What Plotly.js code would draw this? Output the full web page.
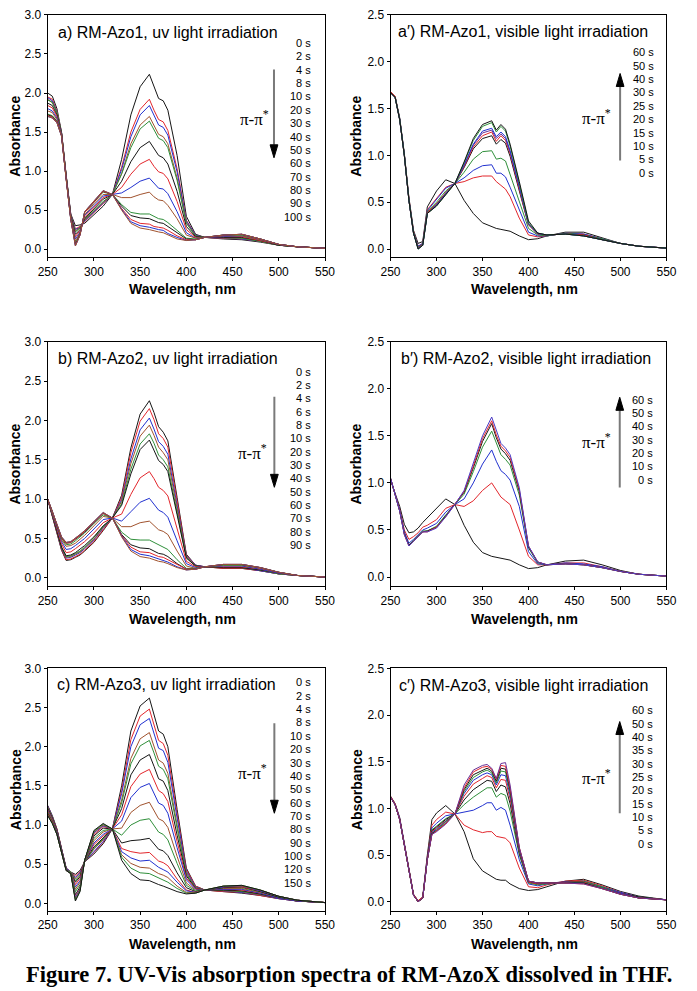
<!DOCTYPE html>
<html><head><meta charset="utf-8">
<script src="https://cdn.plot.ly/plotly-3.0.1.min.js"></script>
<style>html,body{margin:0;padding:0;background:#fff}#chart{width:697px;height:991px}</style>
</head><body><div id="chart"></div>
<script>
// wavelength grids (nm)
const wl = [250,255,260,265,270,275,280,285,290,300,310,320,330,340,350,360,365,370,375,380,390,400,410,420,440,460,480,500,520,550];
const wlC3vis = [250,255,260,265,270,275,280,285,290,295,300,310,320,330,340,350,355,360,365,370,375,380,390,400,410,420,440,460,480,500,520,550];

// a) RM-Azo1, UV irradiation (0..100 s)
const azo1_uv_labels = ['0 s','2 s','4 s','8 s','10 s','20 s','30 s','40 s','50 s','60 s','70 s','80 s','90 s','100 s'];
const azo1_uv = [
 [2.00,1.96,1.80,1.50,0.95,0.45,0.30,0.31,0.33,0.44,0.55,0.70,1.15,1.72,2.08,2.24,2.08,1.93,1.90,1.78,1.20,0.42,0.19,0.15,0.13,0.12,0.09,0.05,0.03,0.01],
 [1.95,1.92,1.77,1.49,0.94,0.44,0.26,0.29,0.35,0.47,0.58,0.70,1.05,1.50,1.79,1.92,1.78,1.66,1.63,1.52,1.03,0.37,0.18,0.15,0.14,0.13,0.10,0.05,0.03,0.01],
 [1.94,1.90,1.76,1.49,0.94,0.44,0.25,0.28,0.36,0.48,0.59,0.70,1.02,1.44,1.72,1.84,1.71,1.59,1.56,1.46,0.99,0.36,0.18,0.15,0.14,0.13,0.10,0.05,0.03,0.01],
 [1.92,1.88,1.75,1.49,0.94,0.43,0.23,0.28,0.37,0.49,0.60,0.70,0.97,1.35,1.59,1.70,1.58,1.47,1.44,1.35,0.91,0.34,0.17,0.15,0.14,0.14,0.10,0.05,0.03,0.01],
 [1.91,1.88,1.75,1.49,0.94,0.43,0.22,0.27,0.38,0.49,0.61,0.70,0.96,1.30,1.54,1.64,1.53,1.42,1.39,1.30,0.88,0.33,0.17,0.15,0.15,0.14,0.10,0.05,0.03,0.01],
 [1.87,1.84,1.72,1.48,0.93,0.42,0.19,0.25,0.39,0.52,0.64,0.70,0.87,1.12,1.30,1.38,1.29,1.20,1.17,1.09,0.74,0.29,0.16,0.15,0.15,0.15,0.11,0.05,0.03,0.01],
 [1.84,1.81,1.70,1.47,0.92,0.41,0.16,0.24,0.41,0.54,0.66,0.70,0.79,0.96,1.09,1.15,1.06,0.99,0.97,0.90,0.61,0.25,0.15,0.15,0.16,0.16,0.11,0.06,0.03,0.01],
 [1.80,1.77,1.68,1.47,0.92,0.40,0.13,0.22,0.43,0.56,0.68,0.70,0.72,0.79,0.87,0.91,0.84,0.78,0.77,0.71,0.48,0.21,0.14,0.15,0.16,0.17,0.12,0.06,0.03,0.01],
 [1.77,1.75,1.66,1.46,0.91,0.40,0.10,0.21,0.44,0.58,0.70,0.70,0.66,0.66,0.70,0.73,0.67,0.63,0.62,0.56,0.39,0.18,0.14,0.15,0.17,0.17,0.12,0.06,0.03,0.01],
 [1.73,1.71,1.64,1.46,0.91,0.39,0.07,0.19,0.47,0.60,0.73,0.70,0.57,0.47,0.45,0.45,0.42,0.39,0.38,0.34,0.24,0.14,0.13,0.15,0.18,0.18,0.13,0.06,0.03,0.01],
 [1.72,1.70,1.63,1.45,0.90,0.38,0.06,0.19,0.47,0.61,0.74,0.70,0.55,0.43,0.40,0.39,0.36,0.34,0.33,0.29,0.20,0.13,0.12,0.15,0.18,0.19,0.13,0.06,0.03,0.01],
 [1.71,1.69,1.63,1.45,0.90,0.38,0.05,0.18,0.47,0.61,0.74,0.70,0.52,0.38,0.33,0.32,0.29,0.28,0.27,0.24,0.17,0.12,0.12,0.15,0.18,0.19,0.13,0.06,0.03,0.01],
 [1.70,1.68,1.62,1.45,0.90,0.38,0.04,0.18,0.48,0.62,0.75,0.70,0.51,0.35,0.30,0.28,0.26,0.25,0.24,0.20,0.15,0.11,0.12,0.15,0.18,0.19,0.13,0.06,0.03,0.01],
 [1.70,1.68,1.62,1.45,0.90,0.38,0.04,0.18,0.48,0.62,0.75,0.70,0.50,0.33,0.27,0.25,0.23,0.22,0.21,0.18,0.13,0.11,0.12,0.15,0.18,0.19,0.13,0.06,0.03,0.01]
];

// a') RM-Azo1, visible irradiation (0..60 s)
const azo1_vis_labels = ['60 s','50 s','40 s','30 s','25 s','20 s','15 s','10 s','5 s','0 s'];
const azo1_vis = [
 [1.68,1.63,1.40,1.02,0.55,0.20,0.06,0.08,0.45,0.62,0.74,0.70,0.52,0.38,0.28,0.24,0.22,0.21,0.20,0.19,0.14,0.10,0.11,0.14,0.18,0.18,0.12,0.06,0.03,0.01],
 [1.68,1.63,1.39,1.01,0.54,0.19,0.03,0.06,0.42,0.54,0.66,0.70,0.72,0.76,0.78,0.78,0.72,0.68,0.64,0.56,0.33,0.15,0.13,0.14,0.17,0.16,0.11,0.06,0.03,0.01],
 [1.67,1.62,1.39,1.01,0.53,0.18,0.03,0.06,0.41,0.53,0.65,0.70,0.76,0.84,0.89,0.90,0.81,0.81,0.77,0.66,0.42,0.18,0.14,0.14,0.17,0.16,0.11,0.06,0.03,0.01],
 [1.67,1.62,1.39,1.01,0.53,0.18,0.02,0.05,0.40,0.50,0.62,0.70,0.82,0.96,1.04,1.05,0.96,0.97,0.94,0.80,0.51,0.22,0.15,0.14,0.17,0.15,0.11,0.06,0.03,0.01],
 [1.67,1.62,1.38,1.00,0.52,0.17,0.01,0.05,0.39,0.48,0.60,0.70,0.87,1.07,1.18,1.21,1.12,1.17,1.13,0.99,0.62,0.26,0.16,0.15,0.16,0.15,0.10,0.06,0.03,0.01],
 [1.67,1.62,1.38,1.00,0.52,0.17,0.01,0.05,0.39,0.48,0.60,0.70,0.88,1.09,1.21,1.25,1.15,1.21,1.16,1.02,0.64,0.26,0.16,0.15,0.16,0.15,0.10,0.06,0.03,0.01],
 [1.67,1.62,1.38,1.00,0.52,0.17,0.01,0.04,0.38,0.47,0.59,0.70,0.89,1.11,1.24,1.27,1.18,1.23,1.18,1.04,0.66,0.27,0.16,0.15,0.16,0.14,0.10,0.06,0.03,0.01],
 [1.67,1.62,1.38,1.00,0.52,0.17,0.00,0.04,0.38,0.47,0.59,0.70,0.90,1.12,1.26,1.29,1.20,1.25,1.20,1.05,0.67,0.27,0.17,0.15,0.16,0.14,0.10,0.06,0.03,0.01],
 [1.67,1.62,1.38,1.00,0.52,0.17,0.00,0.04,0.38,0.46,0.58,0.70,0.92,1.16,1.31,1.35,1.25,1.31,1.26,1.10,0.70,0.28,0.17,0.15,0.16,0.14,0.10,0.06,0.03,0.01],
 [1.67,1.62,1.38,1.00,0.52,0.17,0.00,0.04,0.38,0.46,0.58,0.70,0.93,1.18,1.33,1.37,1.27,1.33,1.28,1.12,0.72,0.30,0.17,0.15,0.16,0.14,0.10,0.06,0.03,0.01]
];

// b) RM-Azo2, UV irradiation (0..90 s)
const azo2_uv_labels = ['0 s','2 s','4 s','6 s','8 s','10 s','20 s','30 s','40 s','50 s','60 s','70 s','80 s','90 s'];
const azo2_uv = [
 [1.00,0.78,0.55,0.35,0.22,0.23,0.26,0.29,0.34,0.45,0.60,0.76,1.05,1.65,2.08,2.25,2.10,1.92,1.85,1.74,1.02,0.30,0.16,0.14,0.12,0.12,0.09,0.05,0.03,0.01],
 [1.00,0.78,0.56,0.36,0.23,0.24,0.27,0.30,0.35,0.46,0.61,0.76,1.02,1.59,1.99,2.15,2.01,1.83,1.77,1.66,0.98,0.29,0.16,0.14,0.12,0.12,0.09,0.05,0.03,0.01],
 [1.00,0.79,0.56,0.37,0.25,0.26,0.29,0.32,0.37,0.48,0.63,0.76,0.99,1.51,1.88,2.03,1.89,1.73,1.67,1.57,0.92,0.28,0.16,0.14,0.13,0.13,0.09,0.05,0.03,0.01],
 [1.00,0.79,0.57,0.38,0.26,0.27,0.30,0.33,0.38,0.49,0.64,0.76,0.97,1.45,1.80,1.94,1.81,1.66,1.59,1.50,0.88,0.27,0.15,0.14,0.13,0.13,0.10,0.05,0.03,0.01],
 [1.00,0.80,0.58,0.39,0.27,0.28,0.31,0.34,0.39,0.51,0.65,0.76,0.94,1.38,1.70,1.83,1.71,1.56,1.50,1.41,0.83,0.26,0.15,0.14,0.13,0.13,0.10,0.05,0.03,0.01],
 [1.00,0.80,0.58,0.39,0.28,0.29,0.32,0.36,0.41,0.52,0.66,0.76,0.92,1.32,1.63,1.75,1.63,1.49,1.44,1.35,0.80,0.25,0.15,0.14,0.13,0.13,0.10,0.06,0.03,0.01],
 [1.00,0.81,0.61,0.43,0.32,0.33,0.37,0.41,0.46,0.57,0.70,0.76,0.81,1.06,1.27,1.35,1.26,1.15,1.11,1.04,0.62,0.21,0.14,0.14,0.14,0.14,0.11,0.06,0.03,0.01],
 [1.00,0.82,0.63,0.46,0.36,0.37,0.41,0.45,0.50,0.62,0.74,0.76,0.72,0.84,0.96,1.01,0.94,0.86,0.83,0.77,0.47,0.18,0.13,0.14,0.15,0.15,0.11,0.06,0.03,0.01],
 [1.00,0.83,0.65,0.48,0.40,0.41,0.44,0.49,0.54,0.66,0.78,0.76,0.65,0.65,0.70,0.72,0.67,0.61,0.59,0.55,0.34,0.15,0.12,0.14,0.16,0.16,0.12,0.07,0.03,0.01],
 [1.00,0.84,0.67,0.50,0.42,0.43,0.47,0.52,0.57,0.69,0.80,0.76,0.58,0.49,0.48,0.48,0.45,0.41,0.39,0.36,0.23,0.12,0.12,0.14,0.16,0.16,0.13,0.07,0.03,0.01],
 [1.00,0.85,0.67,0.51,0.44,0.45,0.49,0.53,0.58,0.70,0.82,0.76,0.55,0.42,0.38,0.37,0.34,0.31,0.30,0.27,0.18,0.11,0.11,0.14,0.17,0.17,0.13,0.07,0.03,0.01],
 [1.00,0.85,0.68,0.51,0.44,0.45,0.49,0.54,0.59,0.71,0.82,0.76,0.54,0.39,0.33,0.32,0.30,0.27,0.26,0.23,0.16,0.11,0.11,0.14,0.17,0.17,0.13,0.07,0.03,0.01],
 [1.00,0.85,0.68,0.52,0.45,0.46,0.50,0.55,0.60,0.72,0.83,0.76,0.53,0.36,0.30,0.28,0.26,0.24,0.22,0.20,0.14,0.10,0.11,0.14,0.17,0.17,0.13,0.07,0.03,0.01],
 [1.00,0.85,0.68,0.52,0.45,0.46,0.50,0.55,0.60,0.72,0.83,0.76,0.52,0.34,0.27,0.25,0.23,0.21,0.20,0.18,0.13,0.10,0.11,0.14,0.17,0.17,0.13,0.07,0.03,0.01]
];

// b') RM-Azo2, visible irradiation (0..60 s)
const azo2_vis_labels = ['60 s','50 s','40 s','30 s','20 s','10 s','0 s'];
const azo2_vis = [
 [1.03,0.90,0.75,0.56,0.47,0.48,0.52,0.58,0.63,0.72,0.83,0.77,0.55,0.37,0.26,0.22,0.21,0.20,0.19,0.18,0.13,0.09,0.10,0.13,0.17,0.18,0.13,0.07,0.03,0.01],
 [1.04,0.89,0.72,0.50,0.40,0.43,0.47,0.53,0.55,0.61,0.73,0.77,0.75,0.81,0.92,1.00,0.92,0.85,0.81,0.77,0.50,0.22,0.13,0.13,0.15,0.15,0.11,0.06,0.03,0.01],
 [1.05,0.89,0.71,0.48,0.36,0.40,0.45,0.50,0.52,0.57,0.69,0.77,0.83,1.00,1.20,1.35,1.23,1.13,1.09,1.03,0.75,0.27,0.14,0.13,0.15,0.14,0.11,0.06,0.03,0.01],
 [1.05,0.88,0.70,0.46,0.34,0.39,0.44,0.49,0.49,0.54,0.66,0.77,0.88,1.12,1.38,1.55,1.42,1.30,1.25,1.19,0.87,0.31,0.15,0.13,0.14,0.13,0.10,0.06,0.03,0.01],
 [1.05,0.88,0.70,0.46,0.34,0.38,0.43,0.48,0.49,0.53,0.65,0.77,0.90,1.16,1.44,1.63,1.48,1.36,1.31,1.24,0.91,0.32,0.16,0.13,0.14,0.13,0.10,0.06,0.03,0.01],
 [1.05,0.88,0.70,0.45,0.33,0.38,0.43,0.48,0.48,0.53,0.64,0.77,0.91,1.18,1.47,1.66,1.51,1.39,1.34,1.27,0.93,0.33,0.16,0.13,0.14,0.13,0.10,0.06,0.03,0.01],
 [1.05,0.88,0.70,0.45,0.33,0.38,0.43,0.48,0.48,0.52,0.64,0.77,0.92,1.20,1.50,1.70,1.55,1.42,1.37,1.30,0.95,0.33,0.16,0.13,0.14,0.13,0.10,0.06,0.03,0.01]
];

// c) RM-Azo3, UV irradiation (0..150 s)
const azo3_uv_labels = ['0 s','2 s','4 s','8 s','10 s','20 s','30 s','40 s','50 s','60 s','70 s','80 s','90 s','100 s','120 s','150 s'];
const azo3_uv = [
 [1.25,1.12,0.95,0.70,0.45,0.40,0.37,0.42,0.53,0.63,0.76,0.95,1.50,2.20,2.52,2.62,2.42,2.20,2.16,2.00,1.20,0.45,0.22,0.17,0.15,0.13,0.10,0.06,0.03,0.01],
 [1.24,1.11,0.95,0.70,0.45,0.40,0.35,0.40,0.53,0.65,0.78,0.95,1.44,2.09,2.39,2.48,2.29,2.08,2.04,1.89,1.14,0.43,0.22,0.17,0.15,0.14,0.10,0.06,0.03,0.01],
 [1.24,1.11,0.94,0.69,0.45,0.40,0.33,0.39,0.53,0.66,0.79,0.95,1.40,2.00,2.28,2.36,2.18,1.98,1.95,1.80,1.09,0.41,0.21,0.17,0.16,0.14,0.11,0.06,0.03,0.01],
 [1.23,1.10,0.94,0.69,0.44,0.40,0.31,0.37,0.53,0.69,0.81,0.95,1.32,1.85,2.10,2.18,2.01,1.83,1.79,1.66,1.00,0.39,0.20,0.17,0.16,0.15,0.11,0.07,0.03,0.01],
 [1.22,1.10,0.93,0.69,0.44,0.40,0.29,0.36,0.53,0.70,0.82,0.95,1.28,1.78,2.01,2.08,1.92,1.75,1.71,1.59,0.96,0.37,0.20,0.17,0.17,0.15,0.12,0.07,0.03,0.01],
 [1.21,1.09,0.93,0.68,0.44,0.39,0.27,0.34,0.54,0.72,0.84,0.95,1.21,1.64,1.83,1.90,1.75,1.59,1.56,1.44,0.87,0.35,0.19,0.17,0.17,0.16,0.12,0.07,0.03,0.01],
 [1.20,1.08,0.92,0.68,0.44,0.39,0.24,0.32,0.54,0.75,0.86,0.95,1.13,1.49,1.65,1.71,1.58,1.44,1.40,1.30,0.79,0.32,0.19,0.17,0.18,0.17,0.13,0.07,0.03,0.01],
 [1.19,1.07,0.92,0.68,0.44,0.39,0.21,0.29,0.54,0.77,0.88,0.95,1.05,1.35,1.48,1.53,1.41,1.28,1.25,1.15,0.71,0.30,0.18,0.17,0.18,0.18,0.13,0.07,0.03,0.01],
 [1.18,1.06,0.91,0.67,0.43,0.39,0.18,0.27,0.54,0.80,0.91,0.95,0.96,1.16,1.25,1.29,1.19,1.08,1.05,0.97,0.60,0.26,0.17,0.17,0.19,0.19,0.14,0.08,0.04,0.01],
 [1.16,1.05,0.90,0.67,0.43,0.39,0.15,0.24,0.54,0.83,0.93,0.95,0.87,1.00,1.06,1.08,0.99,0.91,0.88,0.81,0.51,0.23,0.16,0.17,0.20,0.20,0.15,0.08,0.04,0.01],
 [1.15,1.04,0.90,0.66,0.43,0.38,0.11,0.21,0.55,0.86,0.96,0.95,0.77,0.80,0.81,0.83,0.76,0.69,0.67,0.61,0.39,0.20,0.15,0.17,0.20,0.21,0.15,0.08,0.04,0.01],
 [1.14,1.04,0.89,0.66,0.42,0.38,0.08,0.19,0.55,0.88,0.98,0.95,0.70,0.66,0.64,0.65,0.60,0.54,0.52,0.48,0.31,0.17,0.14,0.17,0.21,0.21,0.16,0.09,0.04,0.01],
 [1.13,1.03,0.89,0.66,0.42,0.38,0.07,0.18,0.55,0.90,0.99,0.95,0.66,0.58,0.54,0.55,0.50,0.46,0.43,0.40,0.27,0.16,0.14,0.17,0.21,0.22,0.16,0.09,0.04,0.01],
 [1.13,1.03,0.88,0.65,0.42,0.38,0.05,0.17,0.55,0.91,1.00,0.95,0.62,0.51,0.46,0.45,0.41,0.38,0.36,0.33,0.22,0.14,0.14,0.17,0.22,0.22,0.17,0.09,0.04,0.01],
 [1.12,1.02,0.88,0.65,0.42,0.38,0.04,0.16,0.55,0.92,1.01,0.95,0.59,0.45,0.39,0.38,0.35,0.32,0.30,0.27,0.19,0.13,0.13,0.17,0.22,0.23,0.17,0.09,0.04,0.01],
 [1.12,1.02,0.88,0.65,0.42,0.38,0.03,0.15,0.55,0.93,1.02,0.95,0.55,0.38,0.30,0.29,0.26,0.24,0.22,0.20,0.15,0.12,0.13,0.17,0.22,0.23,0.17,0.09,0.04,0.01]
];

// c') RM-Azo3, visible irradiation (0..60 s) on wlC3vis
const azo3_vis_labels = ['60 s','50 s','40 s','35 s','30 s','25 s','20 s','15 s','10 s','5 s','0 s'];
const azo3_vis = [
 [1.13,1.05,0.90,0.62,0.35,0.08,0.01,0.05,0.50,0.88,0.95,1.03,0.94,0.75,0.46,0.33,0.30,0.27,0.24,0.23,0.23,0.19,0.14,0.12,0.13,0.16,0.22,0.24,0.18,0.11,0.06,0.02],
 [1.13,1.05,0.89,0.62,0.34,0.08,0.01,0.05,0.48,0.82,0.88,0.96,0.94,0.82,0.77,0.74,0.75,0.75,0.70,0.69,0.68,0.63,0.36,0.16,0.15,0.18,0.22,0.23,0.17,0.10,0.05,0.02],
 [1.12,1.04,0.89,0.61,0.34,0.07,0.00,0.04,0.47,0.79,0.84,0.92,0.94,0.96,0.98,1.03,1.06,1.06,0.98,1.01,0.98,0.82,0.45,0.19,0.17,0.19,0.21,0.22,0.16,0.10,0.05,0.02],
 [1.12,1.04,0.88,0.61,0.33,0.07,0.00,0.04,0.46,0.77,0.81,0.89,0.94,1.04,1.12,1.19,1.22,1.22,1.12,1.16,1.14,0.97,0.50,0.20,0.18,0.19,0.21,0.22,0.16,0.09,0.05,0.02],
 [1.12,1.04,0.88,0.60,0.33,0.07,0.00,0.04,0.46,0.76,0.80,0.88,0.94,1.09,1.20,1.27,1.30,1.29,1.18,1.25,1.23,1.05,0.52,0.21,0.19,0.20,0.21,0.21,0.15,0.09,0.05,0.02],
 [1.12,1.04,0.88,0.60,0.33,0.07,0.00,0.04,0.45,0.75,0.79,0.87,0.94,1.13,1.26,1.32,1.35,1.33,1.22,1.31,1.30,1.10,0.54,0.21,0.19,0.20,0.21,0.21,0.15,0.09,0.04,0.02],
 [1.12,1.04,0.88,0.60,0.33,0.07,0.00,0.04,0.45,0.74,0.78,0.86,0.94,1.16,1.30,1.36,1.38,1.36,1.25,1.36,1.35,1.14,0.55,0.22,0.20,0.20,0.21,0.20,0.15,0.09,0.04,0.02],
 [1.12,1.04,0.88,0.60,0.33,0.07,0.00,0.04,0.45,0.73,0.77,0.85,0.94,1.18,1.33,1.39,1.41,1.38,1.27,1.40,1.39,1.17,0.56,0.22,0.20,0.20,0.20,0.20,0.15,0.08,0.04,0.02],
 [1.12,1.04,0.88,0.60,0.33,0.07,0.00,0.04,0.45,0.73,0.76,0.84,0.94,1.20,1.36,1.41,1.43,1.40,1.29,1.43,1.42,1.20,0.57,0.22,0.20,0.20,0.20,0.20,0.14,0.08,0.04,0.02],
 [1.12,1.04,0.88,0.60,0.33,0.07,0.00,0.04,0.45,0.72,0.76,0.84,0.94,1.22,1.39,1.44,1.45,1.42,1.31,1.46,1.45,1.22,0.58,0.22,0.20,0.20,0.20,0.19,0.14,0.08,0.04,0.02],
 [1.12,1.04,0.88,0.60,0.33,0.07,0.00,0.04,0.45,0.72,0.75,0.83,0.94,1.25,1.41,1.46,1.47,1.43,1.32,1.48,1.49,1.25,0.58,0.22,0.20,0.20,0.20,0.19,0.14,0.08,0.04,0.02]
];

// styles
const K='#151515', RD='#e2262c', BL='#2131cf', BR='#a0522d', GR='#2f8f3a', PU='#6a3296';
const uvCycle = [K,RD,BL,BR,GR];
const uvColors = n => Array.from({length:n},(_,i)=>uvCycle[i%5]);
const visColorsA1 = [K,RD,BL,GR,K,RD,PU,BL,GR,K];
const visColorsA2 = [K,RD,BL,GR,K,RD,'#4b3cc4'];
const visColorsA3 = [K,RD,BL,GR,K,RD,BL,GR,K,RD,PU];

const colL=[0.0684,0.4663], colR=[0.5603,0.9562];
const row1=[0.7402,0.9849], row2=[0.4082,0.6552], row3=[0.0807,0.3256];

const panels = [
 {wl:wl, data:azo1_uv, colors:uvColors(14), xd:colL, yd:row1, yr:[-0.107,3.0], title:'a) RM-Azo1, uv light irradiation', tx:259.5, ty:2.78,
  labels:azo1_uv_labels, lx:537, ly:2.64, ppu:78.1, pi:[474,1.68], arrow:{x:494.8, from:2.30, to:1.17, down:true}},
 {wl:wl, data:azo1_vis, colors:visColorsA1, xd:colR, yd:row1, yr:[-0.09,2.5], title:'a\u2032) RM-Azo1, visible light irradiation', tx:255.8, ty:2.32,
  labels:azo1_vis_labels, lx:538.8, ly:2.10, ppu:93.3, pi:[473.6,1.41], arrow:{x:499.6, from:0.946, to:1.875, down:false}},
 {wl:wl, data:azo2_uv, colors:uvColors(14), xd:colL, yd:row2, yr:[-0.11,3.0], title:'b) RM-Azo2, uv light irradiation', tx:259.5, ty:2.79,
  labels:azo2_uv_labels, lx:537.4, ly:2.62, ppu:78.9, pi:[471.4,1.60], arrow:{x:495.2, from:2.30, to:1.15, down:true}},
 {wl:wl, data:azo2_vis, colors:visColorsA2, xd:colR, yd:row2, yr:[-0.10,2.5], title:'b\u2032) RM-Azo2, visible light irradiation', tx:259.4, ty:2.32,
  labels:azo2_vis_labels, lx:537.3, ly:1.885, ppu:93.6, pi:[473.9,1.45], arrow:{x:499.2, from:0.95, to:1.91, down:false}},
 {wl:wl, data:azo3_uv, colors:uvColors(16), xd:colL, yd:row3, yr:[-0.098,3.0], title:'c) RM-Azo3, uv light irradiation', tx:257.9, ty:2.79,
  labels:azo3_uv_labels, lx:537.4, ly:2.82, ppu:78.33, pi:[471.4,1.68], arrow:{x:495.2, from:2.30, to:1.15, down:true}},
 {wl:wlC3vis, data:azo3_vis, colors:visColorsA3, xd:colR, yd:row3, yr:[-0.10,2.5], title:'c\u2032) RM-Azo3, visible light irradiation', tx:256.5, ty:2.32,
  labels:azo3_vis_labels, lx:537.3, ly:2.05, ppu:93.36, pi:[473.9,1.34], arrow:{x:499.2, from:0.947, to:1.93, down:false}}
];

const SANS='Liberation Sans, Arial, Helvetica, sans-serif';
const SERIF='Liberation Serif, Times New Roman, serif';
const axCommon = {showline:true, mirror:true, linecolor:'#000', linewidth:1, ticks:'outside', ticklen:3, tickcolor:'#000', tickwidth:1,
  showgrid:false, zeroline:false, tickfont:{family:SANS, size:12, color:'#000'}, fixedrange:true};

const traces=[], annotations=[], shapes=[];
const layout = {width:697, height:991, margin:{l:0,r:0,t:0,b:0}, paper_bgcolor:'#fff', plot_bgcolor:'#fff', showlegend:false};

panels.forEach((p,k0)=>{
  const s = k0===0 ? '' : String(k0+1);
  const xr='x'+s, yr='y'+s;
  layout['xaxis'+s] = Object.assign({}, axCommon, {domain:p.xd, range:[250,550], anchor:yr, tick0:250, dtick:50});
  layout['yaxis'+s] = Object.assign({}, axCommon, {domain:p.yd, range:p.yr, anchor:xr, tick0:0, dtick:0.5, tickformat:'.1f'});
  p.data.forEach((row,i)=>{
    traces.push({x:p.wl, y:row, xaxis:xr, yaxis:yr, type:'scatter', mode:'lines', line:{color:p.colors[i], width:1}, hoverinfo:'skip'});
  });
  annotations.push({xref:xr, yref:yr, x:p.tx, y:p.ty, text:p.title, showarrow:false, xanchor:'left', yanchor:'middle', font:{family:SANS, size:16, color:'#000'}});
  p.labels.forEach((t,i)=>{
    annotations.push({xref:xr, yref:yr, x:p.lx, y:p.ly, yshift:-i*13.35, text:t, showarrow:false, xanchor:'right', yanchor:'middle', font:{family:SANS, size:11, color:'#000'}});
  });
  annotations.push({xref:xr, yref:yr, x:p.pi[0], y:p.pi[1], text:'\u03c0-\u03c0<sup>*</sup>', showarrow:false, xanchor:'center', yanchor:'middle', font:{family:SERIF, size:17, color:'#000'}});
  const a=p.arrow, hl=13/p.ppu, hw=4.2;
  const base = a.down ? a.to+hl : a.to-hl;
  shapes.push({type:'line', xref:xr, yref:yr, x0:a.x, x1:a.x, y0:a.from, y1:base, line:{color:'#7a7a7a', width:2}});
  shapes.push({type:'path', xref:xr, yref:yr, path:`M ${a.x-hw},${base} L ${a.x+hw},${base} L ${a.x},${a.to} Z`, fillcolor:'#000', line:{color:'#000', width:1}});
  // axis titles
  const xc = (p.xd[0]+p.xd[1])/2 - 0.006;
  const ytitle = p.yd===row1 ? 1-289/991 : (p.yd===row2 ? 1-619/991 : 1-944/991);
  annotations.push({xref:'paper', yref:'paper', x:xc, y:ytitle, text:'<b>Wavelength, nm</b>', showarrow:false, xanchor:'center', yanchor:'middle', font:{family:SANS, size:14, color:'#000'}});
  const xa = p.xd===colL ? 15.5/697 : 356.5/697;
  annotations.push({xref:'paper', yref:'paper', x:xa, y:(p.yd[0]+p.yd[1])/2, text:'<b>Absorbance</b>', textangle:-90, showarrow:false, xanchor:'center', yanchor:'middle', font:{family:SANS, size:14, color:'#000'}});
});

annotations.push({xref:'paper', yref:'paper', x:0.5, y:1-974/991, text:'<b>Figure 7. UV-Vis absorption spectra of RM-AzoX dissolved in THF.</b>', showarrow:false, xanchor:'center', yanchor:'middle', font:{family:SERIF, size:22.5, color:'#000'}});

layout.annotations = annotations;
layout.shapes = shapes;
Plotly.newPlot('chart', traces, layout, {staticPlot:true, displayModeBar:false});
</script>
</body></html>
